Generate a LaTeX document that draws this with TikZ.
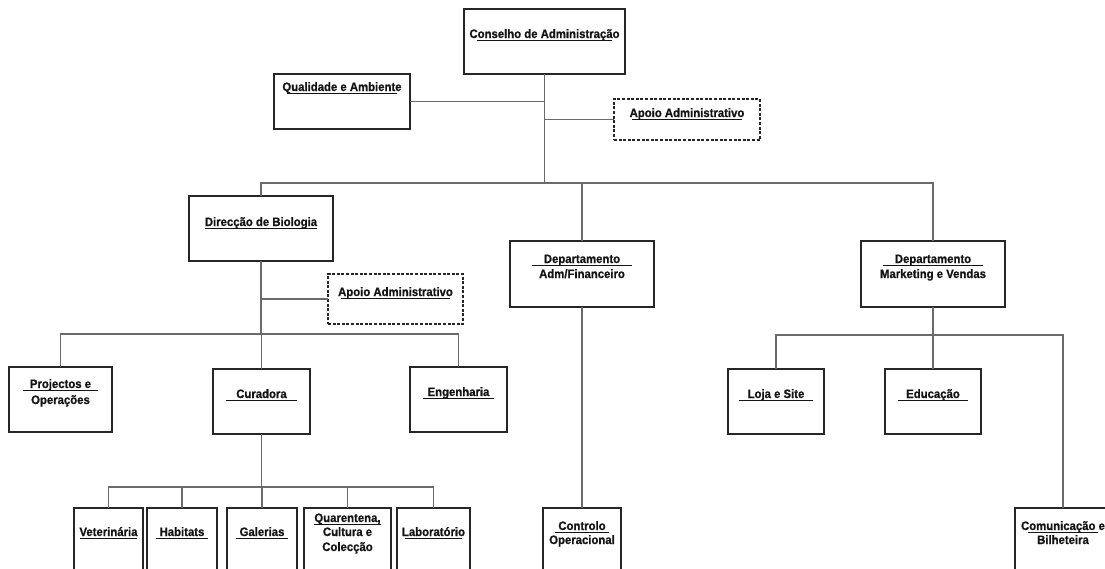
\documentclass[tikz,border=0pt]{standalone}
\usepackage{fontspec}
\setmainfont{Liberation Sans}[FakeStretch=0.93, BoldFeatures={FakeBold=0.8}]
\definecolor{boxc}{HTML}{262626}
\definecolor{wirec}{HTML}{6A6A6A}
\definecolor{txtc}{HTML}{141414}
\newcommand\ulbl[5]{%
  \node[lbl=#4, anchor=base] (#1) at (#2,#3) {#5};
  \draw[uline] ([yshift=-2.5pt]#1.base west) -- ([yshift=-2.5pt]#1.base east);}
\begin{document}
\begin{tikzpicture}[x=1pt,y=-1pt,
  box/.style={draw=boxc, line width=1.6pt, inner sep=0pt, outer sep=0pt},
  dbox/.style={box, dash pattern=on 3pt off 1.6pt},
  lbl/.style={font=\fontsize{12.2}{14}\selectfont\bfseries, text=txtc, inner ysep=0pt, inner xsep=#1},
  lbl/.default=0pt,
  wire/.style={draw=wirec, line width=1.1pt},
  uline/.style={draw=txtc, line width=1.2pt}]
\path[use as bounding box] (0,0) rectangle (1105,568);
\clip (0,0) rectangle (1105,568);
\fill[white] (0,0) rectangle (1105,568);

% ---------- boxes ----------
\node[box, minimum width=161pt, minimum height=65pt] (cons) at (544.5,41.5) {};
\node[box, minimum width=136pt, minimum height=55pt] (qual) at (342,101.5) {};
\node[dbox, minimum width=146pt, minimum height=41pt] (apo1) at (687,119.5) {};
\node[box, minimum width=144pt, minimum height=65pt] (dir) at (261,228.5) {};
\node[dbox, minimum width=135pt, minimum height=50pt] (apo2) at (395.5,299) {};
\node[box, minimum width=144pt, minimum height=66pt] (adm) at (582,274) {};
\node[box, minimum width=144pt, minimum height=66pt] (mkt) at (933,274) {};
\node[box, minimum width=103pt, minimum height=65pt] (proj) at (60.5,399.5) {};
\node[box, minimum width=97pt, minimum height=65pt] (cur) at (261.5,401.5) {};
\node[box, minimum width=97pt, minimum height=65pt] (eng) at (458.5,399.5) {};
\node[box, minimum width=96pt, minimum height=65pt] (loja) at (776,401.5) {};
\node[box, minimum width=96pt, minimum height=65pt] (edu) at (933,401.5) {};
\node[box, minimum width=69pt, minimum height=82pt] (vet) at (108.5,549) {};
\node[box, minimum width=70pt, minimum height=82pt] (hab) at (182,549) {};
\node[box, minimum width=70pt, minimum height=82pt] (gal) at (262,549) {};
\node[box, minimum width=87pt, minimum height=82pt] (qua) at (347.5,549) {};
\node[box, minimum width=73pt, minimum height=82pt] (lab) at (433.5,549) {};
\node[box, minimum width=78pt, minimum height=82pt] (ctrl) at (582,549) {};
\node[box, minimum width=96pt, minimum height=82pt] (com) at (1063,549) {};

% ---------- texts ----------
\ulbl{cons-t}{544.5}{38}{-8pt}{Conselho de Administração}
\ulbl{qual-t}{342}{91}{-5pt}{Qualidade e Ambiente}
\ulbl{apo1-t}{687}{117}{-3pt}{Apoio Administrativo}
\ulbl{dir-t}{261}{226}{0pt}{Direcção de Biologia}
\ulbl{apo2-t}{395.5}{296}{-3pt}{Apoio Administrativo}
\ulbl{adm-t}{582}{263}{12pt}{Departamento}
\node[lbl, anchor=base] (adm-t2) at (582,278) {Adm/Financeiro};
\ulbl{mkt-t}{933}{263}{12pt}{Departamento}
\node[lbl, anchor=base] (mkt-t2) at (933,278) {Marketing e Vendas};
\ulbl{proj-t}{60.5}{388}{7pt}{Projectos e}
\node[lbl, anchor=base] (proj-t2) at (60.5,404) {Operações};
\ulbl{cur-t}{261.5}{398}{10pt}{Curadora}
\ulbl{eng-t}{458.5}{396}{4pt}{Engenharia}
\ulbl{loja-t}{776}{398}{8pt}{Loja e Site}
\ulbl{edu-t}{933}{398}{8pt}{Educação}
\ulbl{vet-t}{108.5}{536}{-1pt}{Veterinária}
\ulbl{hab-t}{182}{536}{3pt}{Habitats}
\ulbl{gal-t}{262}{536}{3pt}{Galerias}
\ulbl{qua-t}{347.5}{522}{0pt}{Quarentena,}
\node[lbl, anchor=base] (qua-t2) at (347.5,536) {Cultura e};
\node[lbl, anchor=base] (qua-t3) at (347.5,551) {Colecção};
\ulbl{lab-t}{433.5}{536}{-3pt}{Laboratório}
\ulbl{ctrl-t}{582}{530}{3pt}{Controlo}
\node[lbl, anchor=base] (ctrl-t2) at (582,544) {Operacional};
\ulbl{com-t}{1063}{530}{-7pt}{Comunicação e}
\node[lbl, anchor=base] (com-t2) at (1063,544) {Bilheteira};

% ---------- connectors ----------
\coordinate (j1) at (544.5,183);
\draw[wire] (cons.south) -- (j1);
\draw[wire] (qual.east) -- (qual.east -| j1);
\draw[wire] (apo1.west -| j1) -- (apo1.west);
\draw[wire] (dir.north) |- (mkt.north |- j1) -- (mkt.north);
\draw[wire] (adm.north) -- (adm.north |- j1);

\coordinate (j2) at (261,334);
\draw[wire] (dir.south) -- (j2);
\draw[wire] (apo2.west -| j2) -- (apo2.west);
\draw[wire] (proj.north) |- (eng.north |- j2) -- (eng.north);
\draw[wire] (cur.north) -- (cur.north |- j2);

\coordinate (j3) at (261.5,487);
\draw[wire] (cur.south) -- (j3);
\draw[wire] (vet.north) |- (lab.north |- j3) -- (lab.north);
\draw[wire] (hab.north) -- (hab.north |- j3);
\draw[wire] (gal.north) -- (gal.north |- j3);
\draw[wire] (qua.north) -- (qua.north |- j3);

\draw[wire] (adm.south) -- (ctrl.north);

\coordinate (j4) at (933,335);
\draw[wire] (mkt.south) -- (j4);
\draw[wire] (loja.north) |- (com.north |- j4) -- (com.north);
\draw[wire] (edu.north) -- (edu.north |- j4);
\end{tikzpicture}
\end{document}
